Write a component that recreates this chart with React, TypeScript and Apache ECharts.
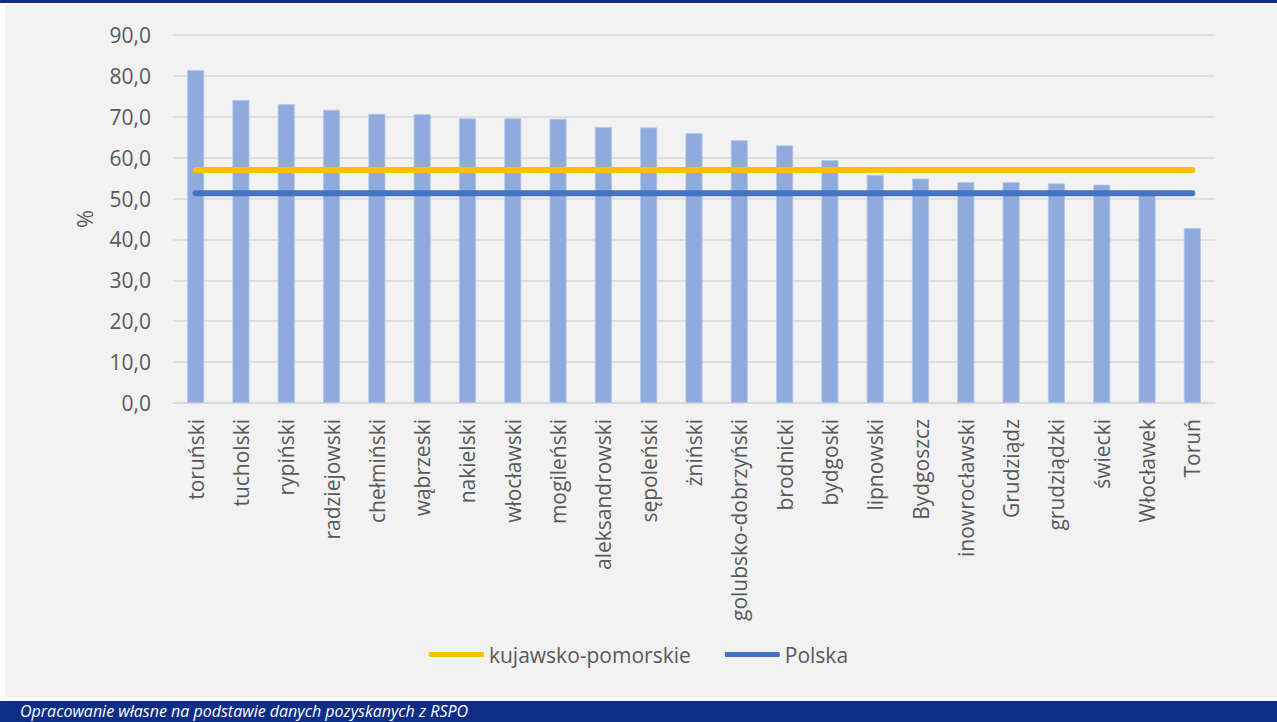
import React, { useEffect, useRef } from "react";
import * as echarts from "echarts";

const categories = [
  "toruński", "tucholski", "rypiński", "radziejowski", "chełmiński", "wąbrzeski",
  "nakielski", "włocławski", "mogileński", "aleksandrowski", "sępoleński", "żniński",
  "golubsko-dobrzyński", "brodnicki", "bydgoski", "lipnowski", "Bydgoszcz",
  "inowrocławski", "Grudziądz", "grudziądzki", "świecki", "Włocławek", "Toruń",
];

const barValues = [
  81.4, 74.1, 73.1, 71.7, 70.7, 70.6, 69.6, 69.6, 69.5, 67.5, 67.4, 66.0,
  64.3, 63.0, 59.4, 55.8, 54.9, 54.0, 54.0, 53.7, 53.4, 51.0, 42.8,
];

const kujawskoPomorskie = [
  57.0, 57.0, 57.0, 57.0, 57.0, 57.0, 57.0, 57.0, 57.0, 57.0, 57.0, 57.0,
  57.0, 57.0, 57.0, 57.0, 57.0, 57.0, 57.0, 57.0, 57.0, 57.0, 57.0,
];

const polska = [
  51.3, 51.3, 51.3, 51.3, 51.3, 51.3, 51.3, 51.3, 51.3, 51.3, 51.3, 51.3,
  51.3, 51.3, 51.3, 51.3, 51.3, 51.3, 51.3, 51.3, 51.3, 51.3, 51.3,
];

const FONT = "'Open Sans', sans-serif";
const TEXT = "#595959";

export default function App() {
  const ref = useRef<HTMLDivElement>(null);

  useEffect(() => {
    document.body.style.margin = "0";
    const chart = echarts.init(ref.current!, undefined, { renderer: "svg" });
    chart.setOption({
      animation: false,
      backgroundColor: "#ffffff",
      textStyle: { fontFamily: FONT },
      graphic: [
        { type: "rect", z: -10, shape: { x: 0, y: 0, width: 1277, height: 3 }, style: { fill: "#0e2d87" } },
        { type: "rect", z: -10, shape: { x: 5, y: 5, width: 1272, height: 692 }, style: { fill: "#f2f2f2" } },
        { type: "rect", z: -10, shape: { x: 0, y: 701, width: 1277, height: 21 }, style: { fill: "#0e2d87" } },
        {
          type: "text", x: 20, y: 711, z: 10,
          style: {
            text: "Opracowanie własne na podstawie danych pozyskanych z RSPO",
            fill: "#ffffff", font: "italic 16px 'Open Sans', sans-serif",
            verticalAlign: "middle",
          },
        },
      ],
      legend: {
        bottom: 52,
        left: "center",
        itemWidth: 55,
        itemHeight: 5,
        itemGap: 34,
        icon: "roundRect",
        textStyle: { color: TEXT, fontSize: 21, fontFamily: FONT },
        data: ["kujawsko-pomorskie", "Polska"],
      },
      grid: { left: 173, right: 62, top: 35, bottom: 319, containLabel: false },
      xAxis: {
        type: "category",
        data: categories,
        axisLine: { lineStyle: { color: "#d9d9d9", width: 1.5 } },
        axisTick: { show: false },
        axisLabel: { rotate: 90, color: TEXT, fontSize: 21, fontFamily: FONT, margin: 16, interval: 0 },
      },
      yAxis: {
        type: "value",
        min: 0,
        max: 90,
        interval: 10,
        name: "%",
        nameLocation: "middle",
        nameGap: 78,
        nameRotate: 90,
        nameTextStyle: { color: TEXT, fontSize: 22, fontFamily: FONT },
        axisLabel: {
          color: TEXT, fontSize: 21, fontFamily: FONT, margin: 22,
          formatter: (v: number) => v.toFixed(1).replace(".", ","),
        },
        splitLine: { lineStyle: { color: "#d9d9d9", width: 1.5 } },
        axisLine: { show: false },
        axisTick: { show: false },
      },
      series: [
        {
          name: "wartość",
          type: "bar",
          data: barValues,
          barWidth: 17,
          itemStyle: { color: "#8faadc", borderColor: "#b4c7e7", borderWidth: 0.8 },
          z: 2,
        },
        {
          name: "kujawsko-pomorskie",
          type: "line",
          data: kujawskoPomorskie,
          symbol: "none",
          lineStyle: { color: "#ffc000", width: 6, cap: "round" },
          itemStyle: { color: "#ffc000" },
          z: 3,
        },
        {
          name: "Polska",
          type: "line",
          data: polska,
          symbol: "none",
          lineStyle: { color: "#4472c4", width: 6, cap: "round" },
          itemStyle: { color: "#4472c4" },
          z: 4,
        },
      ],
    });
    return () => chart.dispose();
  }, []);

  return (
    <div style={{ position: "fixed", left: 0, top: 0, width: 1277, height: 722 }}>
      <div ref={ref} style={{ width: 1277, height: 722 }} />
    </div>
  );
}
